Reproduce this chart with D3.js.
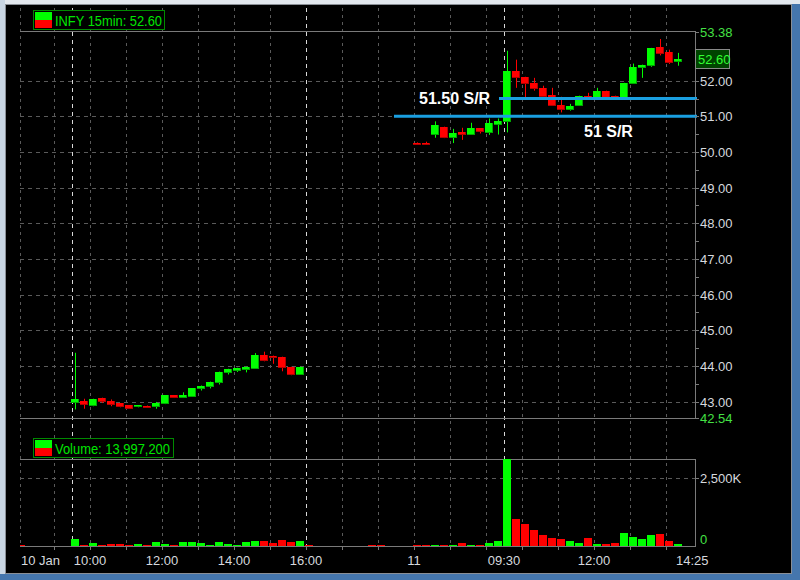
<!DOCTYPE html>
<html><head><meta charset="utf-8">
<script src="https://cdn.jsdelivr.net/npm/d3@7"></script>
<style>html,body{margin:0;padding:0;background:#000;overflow:hidden}text{font-family:"Liberation Sans",Arial,sans-serif}</style>
</head><body>
<svg id="c" width="800" height="580"></svg>
<script>
// ---------- DATA ----------
const barDay  = [10,10,10,10,10,10,10,10,10,10,10,10,10,10,10,10,10,10,10,10,10,10,10,10,10,10,10,10,10,10,
                 11,11,11,11,11,11,11,11,11,11,11,11,11,11,11,11,11,11,11,11,11,11,11,11,11,11,11,11,11,11];
const barTime = ["08:00","09:30","09:45","10:00","10:15","10:30","10:45","11:00","11:15","11:30","11:45","12:00","12:15","12:30","12:45",
                 "13:00","13:15","13:30","13:45","14:00","14:15","14:30","14:45","15:00","15:15","15:30","15:45","16:00","17:45","18:00",
                 "07:00","07:15","07:30","07:45","08:00","08:15","08:30","08:45","09:00","09:15","09:30","09:45","10:00","10:15","10:30",
                 "10:45","11:00","11:15","11:30","11:45","12:00","12:15","12:30","12:45","13:00","13:15","13:30","13:45","14:00","14:15"];
const open  = [null,42.97,43.03,42.87,43.11,43.03,42.96,42.90,42.84,42.89,42.84,42.93,43.18,43.10,43.13,
               43.34,43.40,43.51,43.79,43.85,43.90,43.92,44.31,44.29,44.26,43.98,43.76,null,null,null,
               50.25,50.25,50.48,50.71,50.40,50.55,50.48,50.66,50.54,50.76,50.85,52.28,52.11,51.94,51.80,
               51.61,51.33,51.19,51.29,51.58,51.52,51.72,51.56,51.52,51.92,52.36,52.42,52.95,52.81,52.53];
const high  = [null,44.37,43.08,43.08,43.11,43.06,42.96,42.90,42.90,42.89,42.99,43.18,43.18,43.26,43.38,
               43.45,43.56,43.84,43.92,43.95,43.98,44.36,44.40,44.29,44.26,43.98,43.98,null,null,null,
               50.27,50.29,50.86,50.71,50.65,50.68,50.82,50.66,50.94,50.94,52.84,52.59,52.11,52.08,51.86,
               51.80,51.55,51.35,51.58,51.66,51.80,51.72,51.58,51.94,52.48,52.45,52.92,53.17,52.87,52.78];
const low   = [null,42.78,42.80,42.87,42.96,42.87,42.84,42.80,42.84,42.84,42.80,42.93,43.10,43.10,43.13,
               43.31,43.37,43.48,43.76,43.83,43.82,43.92,44.13,44.06,43.85,43.74,43.76,null,null,null,
               50.22,50.20,50.40,50.39,50.25,50.34,50.48,50.52,50.48,50.49,50.55,51.80,51.52,51.72,51.55,
               51.29,51.11,51.16,51.29,51.52,51.52,51.52,51.54,51.52,51.92,52.08,52.39,52.71,52.47,52.42];
const close = [null,43.06,42.90,43.08,42.98,42.90,42.84,42.80,42.90,42.85,42.96,43.18,43.10,43.18,43.38,
               43.45,43.56,43.84,43.92,43.95,43.98,44.31,44.15,44.22,43.94,43.76,43.98,null,null,null,
               50.24,50.24,50.77,50.39,50.52,50.48,50.66,50.55,50.80,50.88,52.28,52.08,51.90,51.78,51.55,
               51.29,51.19,51.30,51.58,51.52,51.72,51.52,51.54,51.94,52.39,52.45,52.92,52.75,52.50,52.60];
const volumeK = [20,270,40,110,40,75,75,40,75,20,150,75,40,150,150,
                 110,40,150,75,40,150,185,185,110,220,150,185,30,15,15,
                 20,20,20,15,40,110,40,40,110,185,3400,1000,810,590,405,
                 295,258,185,110,295,75,75,110,480,332,258,406,443,185,75];

const priceGridTicks = [43,44,45,46,47,48,49,50,51,52];
const priceMinorTicks = [43.5,44.5,45.5,46.5,47.5,48.5,49.5,50.5,51.5];
const priceExtremes = [53.38, 42.54];
const lastPrice = 52.60;
const srLevels = [51.50, 51.00];
const srLabels = ["51.50 S/R", "51 S/R"];
const volTicks = [2500];
const hourTicks = [9,10,11,12,13,14,15,16,17,18,19,20,21,22,23,24,25,26];
const sessionMarks = [9.5, 16, 21.5];            // virtual hours
const xLabels = ["10 Jan","10:00","12:00","14:00","16:00","11","09:30","12:00","14:25"];
const xLabelAt = ["10 08:04","10 10:00","10 12:00","10 14:00","10 16:00","11 07:00","11 09:30","11 12:00","11 14:15"];
const legendPrice = "INFY 15min: 52.60";
const legendVolume = "Volume: 13,997,200";

// ---------- HELPERS ----------
function vHour(d, t){ const [h,m]=t.split(":").map(Number); return h + m/60 + (d===11?12:0); }
const bars = barTime.map((t,i)=>({v:vHour(barDay[i],t), o:open[i], h:high[i], l:low[i], c:close[i], vol:volumeK[i]}));

const L=20, R=695;
const x = d3.scaleLinear().domain([9.5 - 52/36, 9.5 + (R-72)/36]).range([L, R]);
const y = d3.scaleLinear().domain([42.54, 53.38]).range([418, 31.5]);
const yv = d3.scaleLinear().domain([0, 3213]).range([546, 459]).clamp(true);

const GREEN="#00ff00", GREEN_D="#00a800", RED="#ff0000", RED_D="#b00000";
const svg = d3.select("#c");

// ---------- WINDOW FRAME ----------
const defs = svg.append("defs");
const g1 = defs.append("linearGradient").attr("id","fr").attr("x1","0").attr("y1","0").attr("x2","1").attr("y2","1");
g1.append("stop").attr("offset","0").attr("stop-color","#dfe7ef");
g1.append("stop").attr("offset","0.5").attr("stop-color","#9fb8d2");
g1.append("stop").attr("offset","1").attr("stop-color","#3f6fa6");
svg.append("rect").attr("width",800).attr("height",580).attr("fill","url(#fr)");
svg.append("rect").attr("x",792).attr("y",0).attr("width",8).attr("height",580).attr("fill","#4576ad");
svg.append("rect").attr("x",0).attr("y",574).attr("width",800).attr("height",6).attr("fill","#4576ad");
svg.append("rect").attr("x",0).attr("y",0).attr("width",800).attr("height",4).attr("fill","#e3e8ee");
svg.append("rect").attr("x",0).attr("y",0).attr("width",5).attr("height",574).attr("fill","#c9d6e3");
svg.append("rect").attr("x",5.5).attr("y",4.5).attr("width",786).attr("height",569).attr("fill","#000").attr("stroke","#8a8f96");

const plot = svg.append("g");

// ---------- GRID ----------
plot.selectAll(".hg").data(priceGridTicks).join("line")
  .attr("x1",L).attr("x2",R).attr("y1",d=>Math.round(y(d))+0.5).attr("y2",d=>Math.round(y(d))+0.5)
  .attr("stroke","#5a5a5a").attr("stroke-dasharray","4,4");
plot.selectAll(".vgh").data(volTicks).join("line")
  .attr("x1",L).attr("x2",R).attr("y1",d=>Math.round(yv(d))+0.5).attr("y2",d=>Math.round(yv(d))+0.5)
  .attr("stroke","#5a5a5a").attr("stroke-dasharray","4,4");
plot.selectAll(".vg").data(hourTicks.filter(h=>!sessionMarks.includes(h))).join("line")
  .attr("x1",d=>Math.round(x(d))+0.5).attr("x2",d=>Math.round(x(d))+0.5).attr("y1",8).attr("y2",546)
  .attr("stroke","#5a5a5a").attr("stroke-dasharray","3,4");
plot.append("line").attr("x1",L+0.5).attr("x2",L+0.5).attr("y1",8).attr("y2",546)
  .attr("stroke","#5a5a5a").attr("stroke-dasharray","3,4");
plot.selectAll(".sg").data(sessionMarks).join("line")
  .attr("x1",d=>Math.round(x(d))+0.5).attr("x2",d=>Math.round(x(d))+0.5).attr("y1",8).attr("y2",546)
  .attr("stroke","#d8d8d8").attr("stroke-dasharray","4,4");

// panel borders
[31.5, 418.5, 459.5, 546.5].forEach(yy=>{
  plot.append("line").attr("x1",L).attr("x2",R).attr("y1",yy).attr("y2",yy).attr("stroke","#7a7a7a");
});
plot.append("line").attr("x1",R+0.5).attr("x2",R+0.5).attr("y1",31).attr("y2",419).attr("stroke","#7a7a7a");
plot.append("line").attr("x1",R+0.5).attr("x2",R+0.5).attr("y1",459).attr("y2",547).attr("stroke","#7a7a7a");

// ---------- CANDLES ----------
const cg = plot.append("g");
bars.filter(b=>b.o!=null).forEach(b=>{
  const r = Math.round(x(b.v));
  const up = b.c >= b.o;
  const col = up?GREEN:RED, dk = up?GREEN_D:RED_D;
  cg.append("line").attr("x1",r+3.5).attr("x2",r+3.5).attr("y1",y(b.h)).attr("y2",y(b.l)).attr("stroke",col);
  const top = Math.round(y(Math.max(b.o,b.c))), bot = Math.round(y(Math.min(b.o,b.c)));
  const h = Math.max(2, bot-top);
  cg.append("rect").attr("x",r-1).attr("y",top).attr("width",8).attr("height",h).attr("fill",dk);
  cg.append("rect").attr("x",r-1).attr("y",top).attr("width",7).attr("height",Math.max(1,h-1)).attr("fill",col);
});

// ---------- VOLUME ----------
const vg = plot.append("g");
bars.forEach(b=>{
  const r = Math.round(x(b.v));
  const up = b.o!=null && b.c >= b.o;
  const top = Math.round(yv(b.vol));
  const h = Math.max(1, 546-top);
  vg.append("rect").attr("x",Math.max(L,r-1)).attr("y",546-h).attr("width",Math.min(8, r+7-L)).attr("height",h)
    .attr("fill",up?GREEN:RED);
});

// ---------- S/R LINES ----------
const srStart = [499, 394];
srLevels.forEach((lv,i)=>{
  plot.append("line").attr("x1",srStart[i]).attr("x2",697).attr("y1",y(lv)).attr("y2",y(lv))
    .attr("stroke","#1a9fe0").attr("stroke-width",3);
});
plot.append("text").attr("x",419).attr("y",y(srLevels[0])+5).text(srLabels[0])
  .attr("fill","#fff").attr("font-size",16).attr("font-weight","bold");
plot.append("text").attr("x",584).attr("y",y(srLevels[1])+21).text(srLabels[1])
  .attr("fill","#fff").attr("font-size",16).attr("font-weight","bold");

// ---------- RIGHT AXES ----------
const ax = plot.append("g").attr("font-size",13);
[...priceGridTicks, ...priceMinorTicks, ...priceExtremes].forEach(p=>{
  const yy = Math.round(y(p))+0.5;
  ax.append("line").attr("x1",R).attr("x2",R+4).attr("y1",yy).attr("y2",yy).attr("stroke","#7a7a7a");
});
ax.selectAll(".pl").data(priceGridTicks).join("text")
  .attr("x",700).attr("y",d=>y(d)+5).text(d=>d.toFixed(2)).attr("fill","#d6d9de");
ax.selectAll(".pe").data(priceExtremes).join("text")
  .attr("x",700).attr("y",d=>y(d)+5).text(d=>d.toFixed(2)).attr("fill","#44e044");
// last price box
const ly = y(lastPrice);
ax.append("rect").attr("x",695.5).attr("y",Math.round(ly)-9.5).attr("width",34).attr("height",19)
  .attr("fill","#004400").attr("stroke","#8a8a8a");
ax.append("text").attr("x",698).attr("y",ly+5).text(lastPrice.toFixed(2)).attr("fill","#33ff33");
// volume axis
volTicks.forEach(v=>{
  ax.append("line").attr("x1",R).attr("x2",R+4).attr("y1",Math.round(yv(v))+0.5).attr("y2",Math.round(yv(v))+0.5).attr("stroke","#7a7a7a");
  ax.append("text").attr("x",700).attr("y",yv(v)+5).text(d3.format(",")(v)+"K").attr("fill","#d6d9de");
});
ax.append("text").attr("x",700).attr("y",yv(0)-2).text("0").attr("fill","#44e044");

// ---------- BOTTOM AXIS ----------
const bx = plot.append("g").attr("font-size",13).attr("fill","#d6d9de");
hourTicks.forEach(h=>{
  const xx = Math.round(x(h))+0.5;
  bx.append("line").attr("x1",xx).attr("x2",xx).attr("y1",546).attr("y2",550).attr("stroke","#7a7a7a");
});
xLabels.forEach((t,i)=>{
  const [d,tm] = xLabelAt[i].split(" ");
  const xv = x(vHour(+d, tm));
  const anchor = i===0 ? "start" : (i===xLabels.length-1 ? "start" : "middle");
  bx.append("text").attr("x", i===0 ? L+1 : (i===xLabels.length-1 ? xv+1 : xv)).attr("y",565)
    .attr("text-anchor",anchor).text(t);
});

// ---------- LEGENDS ----------
function legend(yTop, txt, width, txtLen){
  const g = plot.append("g");
  g.append("rect").attr("x",33.5).attr("y",yTop+0.5).attr("width",width).attr("height",19)
    .attr("fill","#000").attr("stroke","#008a00");
  g.append("rect").attr("x",35).attr("y",yTop+2).attr("width",17).attr("height",8).attr("fill",GREEN);
  g.append("rect").attr("x",35).attr("y",yTop+10).attr("width",17).attr("height",8).attr("fill",RED);
  g.append("text").attr("x",55).attr("y",yTop+15.5).attr("font-size",15).attr("fill","#00e600")
    .attr("textLength",txtLen).attr("lengthAdjust","spacingAndGlyphs").text(txt);
}
legend(10, legendPrice, 131, 107);
legend(438, legendVolume, 140, 115);
</script>
</body></html>
